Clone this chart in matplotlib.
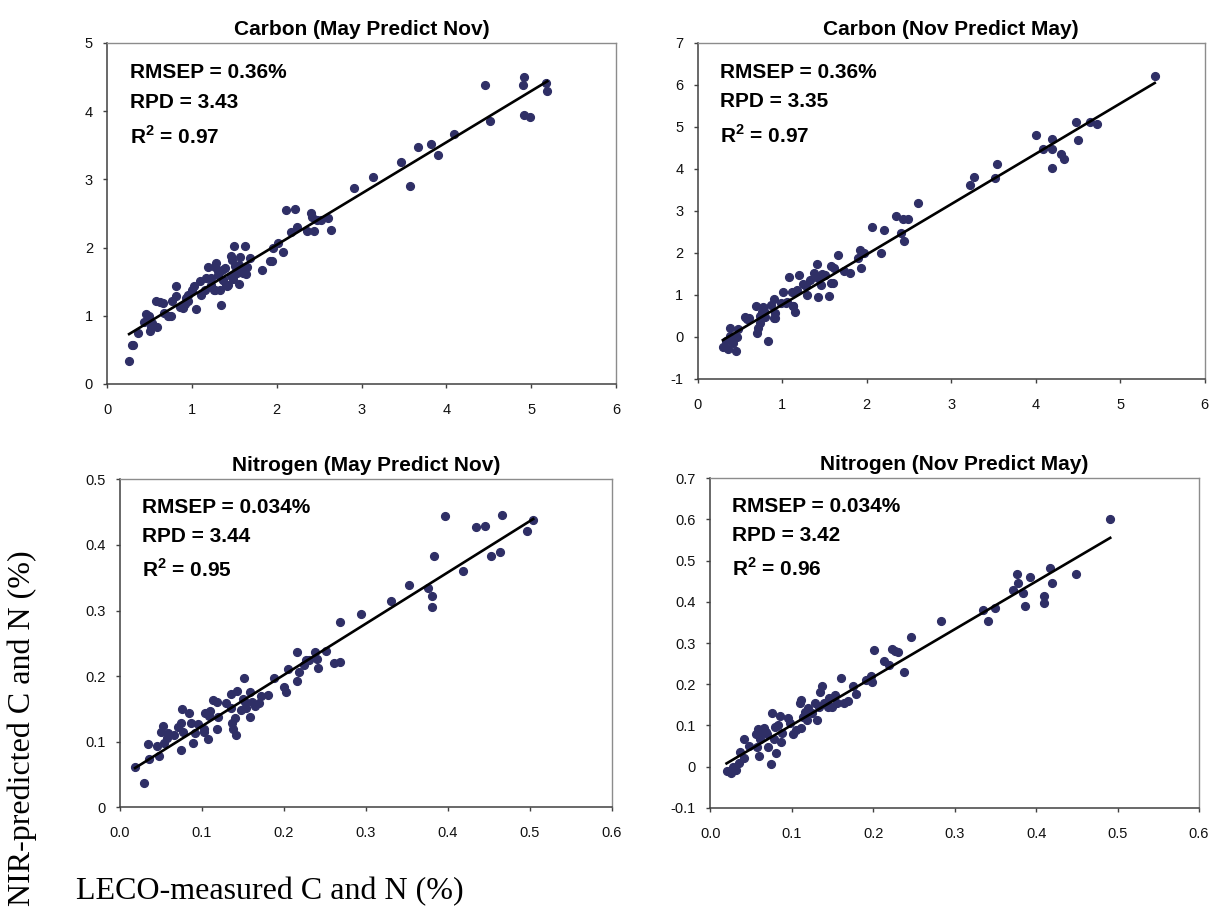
import numpy as np
import matplotlib
matplotlib.use('Agg')
from matplotlib import pyplot as plt

plt.rcParams['font.family'] = ['Liberation Sans', 'DejaVu Sans']
plt.rcParams['mathtext.fontset'] = 'custom'
plt.rcParams['mathtext.rm'] = 'Liberation Sans'
plt.rcParams['mathtext.bf'] = 'Liberation Sans:bold'

# Carbon (May Predict Nov): LECO measured vs NIR predicted
C_MAY_X = [0.26, 0.29, 0.30, 0.36, 0.46, 0.44, 0.51, 0.50, 0.53, 0.59, 0.58, 0.63, 0.66, 0.67,
           0.73, 0.75, 0.77, 0.81, 0.81, 0.86, 0.90, 0.92, 0.96, 0.95, 1.00, 1.02, 1.05, 1.09,
           1.11, 1.17, 1.19, 1.23, 1.26, 1.27, 1.29, 1.31, 1.33, 1.34, 1.35, 1.37, 1.39, 1.40,
           1.43, 1.46, 1.47, 1.49, 1.50, 1.51, 1.53, 1.56, 1.57, 1.59, 1.63, 1.64, 1.65, 1.69,
           1.83, 1.92, 1.95, 1.96, 2.01, 2.08, 2.11, 2.17, 2.22, 2.24, 2.36, 2.40, 2.42, 2.44,
           2.48, 2.52, 2.61, 2.64, 2.91, 3.14, 3.47, 3.57, 3.66, 3.82, 3.90, 4.09, 4.45, 4.51,
           4.90, 4.91, 4.91, 4.99, 5.17, 5.19,
           1.22, 1.31, 1.37, 1.41, 1.46, 1.53, 1.55, 1.60, 0.93, 0.72, 0.52, 1.15, 1.27]
C_MAY_Y = [0.33, 0.57, 0.57, 0.75, 1.03, 0.91, 0.78, 1.00, 0.89, 0.84, 1.21, 1.20, 1.19, 1.04,
           0.99, 0.99, 1.21, 1.43, 1.29, 1.13, 1.11, 1.17, 1.21, 1.31, 1.38, 1.43, 1.10, 1.51,
           1.31, 1.55, 1.72, 1.45, 1.38, 1.72, 1.77, 1.60, 1.38, 1.16, 1.67, 1.53, 1.70, 1.45,
           1.45, 1.88, 1.82, 1.54, 2.03, 1.73, 1.62, 1.47, 1.86, 1.68, 2.02, 1.61, 1.72, 1.84,
           1.67, 1.81, 1.81, 1.99, 2.06, 1.94, 2.55, 2.23, 2.57, 2.30, 2.25, 2.51, 2.45, 2.24,
           2.40, 2.41, 2.44, 2.26, 2.88, 3.03, 3.25, 2.91, 3.47, 3.52, 3.36, 3.67, 4.38, 3.86,
           4.38, 4.50, 3.94, 3.92, 4.41, 4.30,
           1.56, 1.66, 1.53, 1.43, 1.58, 1.69, 1.75, 1.63, 1.26, 0.99, 0.84, 1.38, 1.38]

# Carbon (Nov Predict May)
C_NOV_X = [0.30, 0.36, 0.39, 0.42, 0.45, 0.47, 0.48, 0.56, 0.61, 0.70, 0.71, 0.69, 0.74, 0.76,
           0.78, 0.80, 0.83, 0.87, 0.90, 0.92, 0.92, 1.01, 0.99, 1.06, 1.08, 1.12, 1.13, 1.15,
           1.18, 1.20, 1.28, 1.30, 1.33, 1.38, 1.41, 1.42, 1.43, 1.46, 1.51, 1.56, 1.58, 1.58,
           1.62, 1.66, 1.73, 1.81, 1.90, 1.92, 1.93, 1.97, 2.06, 2.17, 2.21, 2.35, 2.41, 2.43,
           2.44, 2.49, 2.61, 3.23, 3.27, 3.52, 3.54, 4.01, 4.09, 4.19, 4.20, 4.19, 4.30, 4.34,
           4.48, 4.50, 4.64, 4.73, 5.41,
           0.74, 0.79, 0.91, 1.05, 1.13, 1.25, 1.47, 1.60, 0.58, 0.38, 0.34]
C_NOV_Y = [-0.23, -0.29, 0.21, -0.15, -0.33, -0.01, 0.18, 0.48, 0.44, 0.10, 0.21, 0.74, 0.34, 0.60,
           0.72, 0.48, -0.09, 0.76, 0.90, 0.44, 0.56, 1.08, 0.80, 0.84, 1.42, 1.06, 0.74, 0.60,
           1.12, 1.48, 1.22, 1.00, 1.36, 1.52, 1.74, 0.95, 1.40, 1.24, 1.48, 0.98, 1.28, 1.68,
           1.64, 1.95, 1.56, 1.52, 1.87, 2.07, 1.64, 1.99, 2.61, 2.01, 2.55, 2.88, 2.47, 2.81,
           2.29, 2.81, 3.19, 3.61, 3.82, 3.78, 4.11, 4.81, 4.48, 4.48, 4.72, 4.02, 4.36, 4.24,
           5.11, 4.68, 5.11, 5.08, 6.22,
           0.50, 0.62, 0.46, 0.82, 0.74, 1.25, 1.49, 1.29, 0.42, 0.02, -0.10]

# Nitrogen (May Predict Nov)
N_MAY_X = [0.0185, 0.030, 0.034, 0.036, 0.045, 0.048, 0.050, 0.053, 0.054, 0.058, 0.059, 0.066,
           0.071, 0.074, 0.074, 0.076, 0.077, 0.084, 0.087, 0.089, 0.091, 0.095, 0.102, 0.103,
           0.104, 0.108, 0.109, 0.110, 0.114, 0.118, 0.118, 0.120, 0.129, 0.136, 0.136, 0.137,
           0.138, 0.140, 0.142, 0.143, 0.148, 0.150, 0.151, 0.153, 0.154, 0.159, 0.159, 0.161,
           0.165, 0.170, 0.172, 0.181, 0.188, 0.200, 0.203, 0.205, 0.216, 0.216, 0.219, 0.224,
           0.227, 0.231, 0.238, 0.240, 0.242, 0.251, 0.261, 0.268, 0.268, 0.294, 0.331, 0.353,
           0.376, 0.380, 0.380, 0.383, 0.396, 0.418, 0.434, 0.445, 0.452, 0.463, 0.466, 0.496,
           0.504]
N_MAY_Y = [0.062, 0.037, 0.096, 0.074, 0.093, 0.078, 0.115, 0.124, 0.098, 0.105, 0.113, 0.110,
           0.123, 0.087, 0.129, 0.150, 0.115, 0.143, 0.128, 0.098, 0.113, 0.127, 0.119, 0.115,
           0.144, 0.104, 0.139, 0.147, 0.163, 0.119, 0.161, 0.138, 0.159, 0.173, 0.151, 0.129,
           0.119, 0.136, 0.110, 0.178, 0.149, 0.165, 0.197, 0.160, 0.152, 0.176, 0.138, 0.160,
           0.154, 0.159, 0.169, 0.171, 0.197, 0.183, 0.175, 0.211, 0.236, 0.193, 0.207, 0.217,
           0.225, 0.225, 0.236, 0.226, 0.213, 0.239, 0.220, 0.221, 0.282, 0.295, 0.314, 0.339,
           0.335, 0.322, 0.305, 0.383, 0.444, 0.360, 0.427, 0.429, 0.383, 0.389, 0.446, 0.421,
           0.438]

# Nitrogen (Nov Predict May)
N_NOV_X = [0.020, 0.026, 0.028, 0.032, 0.035, 0.037, 0.041, 0.042, 0.047, 0.056, 0.058, 0.059,
           0.060, 0.061, 0.063, 0.066, 0.068, 0.070, 0.071, 0.075, 0.076, 0.078, 0.080, 0.081,
           0.083, 0.086, 0.087, 0.088, 0.096, 0.098, 0.102, 0.105, 0.110, 0.111, 0.112, 0.114,
           0.116, 0.119, 0.120, 0.125, 0.128, 0.131, 0.133, 0.135, 0.137, 0.140, 0.144, 0.146,
           0.150, 0.153, 0.155, 0.161, 0.164, 0.169, 0.175, 0.179, 0.191, 0.197, 0.198, 0.201,
           0.213, 0.220, 0.223, 0.227, 0.231, 0.238, 0.246, 0.283, 0.335, 0.341, 0.349, 0.372,
           0.377, 0.378, 0.384, 0.386, 0.393, 0.410, 0.410, 0.417, 0.419, 0.449, 0.491]
N_NOV_Y = [-0.010, -0.015, -0.002, -0.008, 0.009, 0.036, 0.066, 0.022, 0.050, 0.079, 0.048, 0.090,
           0.026, 0.068, 0.081, 0.093, 0.085, 0.079, 0.047, 0.006, 0.131, 0.068, 0.097, 0.034,
           0.101, 0.123, 0.060, 0.081, 0.117, 0.105, 0.079, 0.089, 0.155, 0.093, 0.162, 0.121,
           0.133, 0.113, 0.141, 0.131, 0.155, 0.113, 0.145, 0.182, 0.196, 0.155, 0.145, 0.166,
           0.145, 0.174, 0.155, 0.214, 0.154, 0.158, 0.196, 0.176, 0.209, 0.220, 0.206, 0.283,
           0.257, 0.247, 0.285, 0.281, 0.279, 0.230, 0.314, 0.354, 0.380, 0.354, 0.384, 0.429,
           0.468, 0.445, 0.421, 0.391, 0.461, 0.415, 0.398, 0.481, 0.445, 0.468, 0.602]

TITLES = ['Carbon (May Predict Nov)', 'Carbon (Nov Predict May)',
          'Nitrogen (May Predict Nov)', 'Nitrogen (Nov Predict May)']
RMSEP = ['0.36%', '0.36%', '0.034%', '0.034%']
RPD = ['3.43', '3.35', '3.44', '3.42']
R2 = ['0.97', '0.97', '0.95', '0.96']
# trend line
FIT_SLOPE = [0.752, 1.198, 0.782, 1.163]
FIT_INTERCEPT = [0.536, -0.433, 0.0454, -0.0156]

X_TICKS = [[0, 1, 2, 3, 4, 5, 6], [0, 1, 2, 3, 4, 5, 6],
           [0.0, 0.1, 0.2, 0.3, 0.4, 0.5, 0.6], [0.0, 0.1, 0.2, 0.3, 0.4, 0.5, 0.6]]
X_LABELS = [['0', '1', '2', '3', '4', '5', '6'], ['0', '1', '2', '3', '4', '5', '6'],
            ['0.0', '0.1', '0.2', '0.3', '0.4', '0.5', '0.6'],
            ['0.0', '0.1', '0.2', '0.3', '0.4', '0.5', '0.6']]
Y_TICKS = [[0, 1, 2, 3, 4, 5], [-1, 0, 1, 2, 3, 4, 5, 6, 7],
           [0.0, 0.1, 0.2, 0.3, 0.4, 0.5], [-0.1, 0.0, 0.1, 0.2, 0.3, 0.4, 0.5, 0.6, 0.7]]
Y_LABELS = [['0', '1', '2', '3', '4', '5'], ['-1', '0', '1', '2', '3', '4', '5', '6', '7'],
            ['0', '0.1', '0.2', '0.3', '0.4', '0.5'],
            ['-0.1', '0', '0.1', '0.2', '0.3', '0.4', '0.5', '0.6', '0.7']]

DATA_X = [C_MAY_X, C_NOV_X, N_MAY_X, N_NOV_X]
DATA_Y = [C_MAY_Y, C_NOV_Y, N_MAY_Y, N_NOV_Y]

DOT = '#2f2f66'
AX_POS = [[0.0884, 0.5776, 0.4203, 0.3751],
          [0.5760, 0.5831, 0.4187, 0.3696],
          [0.0990, 0.1119, 0.4063, 0.3608],
          [0.5865, 0.1114, 0.4036, 0.3624]]

fig = plt.figure(figsize=(12.11, 9.09), dpi=100)

for i in range(4):
    ax = fig.add_axes(AX_POS[i])
    x = np.array(DATA_X[i])
    y = np.array(DATA_Y[i])
    ax.plot(x, y, 'o', ms=5.6, color=DOT, mec=DOT, zorder=3)
    lx = np.array([x.min(), x.max()])
    ax.plot(lx, FIT_SLOPE[i] * lx + FIT_INTERCEPT[i], color='black', lw=1.9, zorder=4)

    ax.set_xlim(X_TICKS[i][0], X_TICKS[i][-1])
    ax.set_ylim(Y_TICKS[i][0], Y_TICKS[i][-1])
    ax.set_xticks(X_TICKS[i])
    ax.set_xticklabels(X_LABELS[i])
    ax.set_yticks(Y_TICKS[i])
    ax.set_yticklabels(Y_LABELS[i])
    ax.tick_params(axis='both', direction='out', length=3.2, width=1.0,
                   color='#404040', labelsize=10.5, labelcolor='#111111')
    ax.tick_params(axis='x', pad=10.5)
    ax.tick_params(axis='y', pad=7)
    for s in ['left', 'bottom']:
        ax.spines[s].set_color('#404040')
        ax.spines[s].set_linewidth(1.1)
    for s in ['top', 'right']:
        ax.spines[s].set_color('#8c8c8c')
        ax.spines[s].set_linewidth(1.0)

    ax.set_title(TITLES[i], fontsize=15, fontweight='bold', pad=6)

    ax.text(0.045, 0.897, 'RMSEP = ' + RMSEP[i], transform=ax.transAxes,
            fontsize=15, fontweight='bold', va='baseline', ha='left')
    ax.text(0.045, 0.81, 'RPD = ' + RPD[i], transform=ax.transAxes,
            fontsize=15, fontweight='bold', va='baseline', ha='left')
    ax.text(0.045, 0.704, 'R$^{\\mathbf{2}}$ = ' + R2[i], transform=ax.transAxes,
            fontsize=15, fontweight='bold', va='baseline', ha='left')

fig.text(22 / 1211, 1 - 728 / 909, 'NIR-predicted C and N (%)', rotation=90,
         family=['Liberation Serif', 'DejaVu Serif'], fontsize=23, ha='center', va='center')
fig.text(76 / 1211, 10 / 909, 'LECO-measured C and N (%)',
         family=['Liberation Serif', 'DejaVu Serif'], fontsize=23, ha='left', va='baseline')

fig.savefig('out.png', dpi=100)
